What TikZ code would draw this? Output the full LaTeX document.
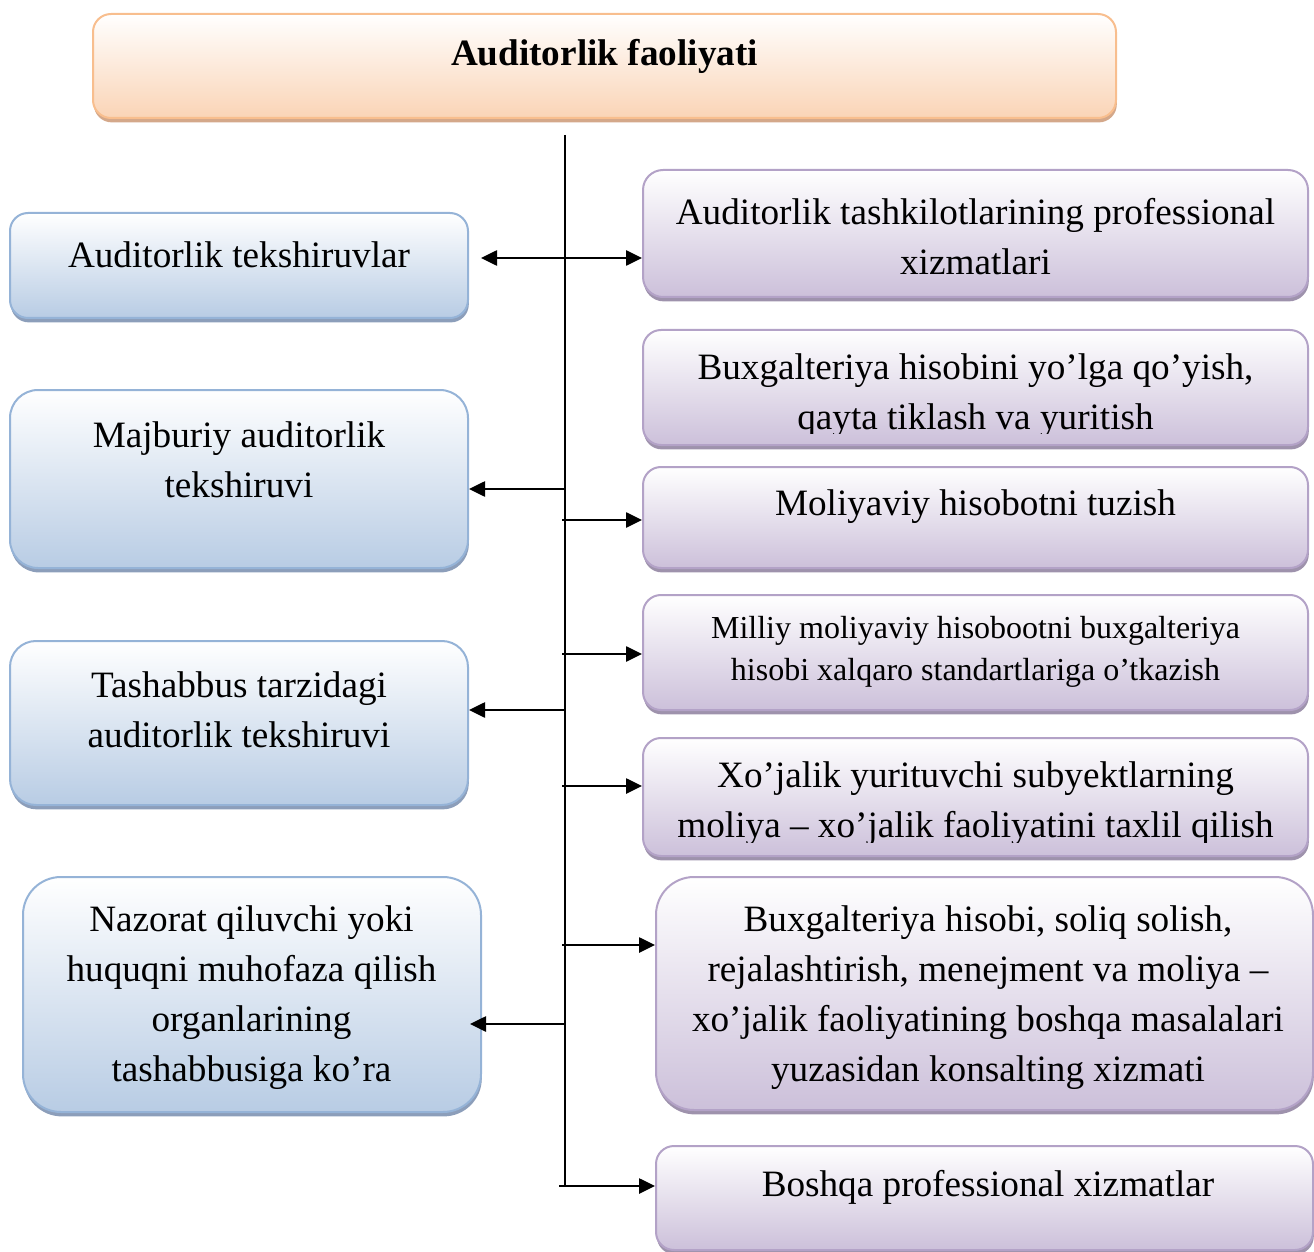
\documentclass[tikz,border=0pt]{standalone}
\usepackage{fontspec}
\setmainfont{Liberation Serif}
\usepackage{tikz}
\usetikzlibrary{arrows.meta, shadows}
\definecolor{PeachLine}  {RGB}{248,190,142}
\definecolor{PeachFill}  {RGB}{250,212,182}
\definecolor{PeachShadow}{RGB}{212,168,138}
\definecolor{SkyLine}    {RGB}{149,179,215}
\definecolor{SkyFill}    {RGB}{184,204,228}
\definecolor{SkyShadow}  {RGB}{140,158,186}
\definecolor{LilacLine}  {RGB}{179,162,199}
\definecolor{LilacFill}  {RGB}{204,192,218}
\definecolor{LilacShadow}{RGB}{158,146,172}

\begin{document}
\begin{tikzpicture}[
  x=0.5pt, y=-0.5pt,
  base/.style={rounded corners=9pt, line width=1pt, inner sep=0pt},
  headbox/.style={base, draw=PeachLine, top color=white, bottom color=PeachFill,
              general shadow={fill=PeachShadow, shadow xshift=0.4pt, shadow yshift=-2.2pt}},
  leftbox/.style={base, draw=SkyLine, top color=white, bottom color=SkyFill,
              minimum width=229pt,
              general shadow={fill=SkyShadow, shadow xshift=0.4pt, shadow yshift=-2.2pt}},
  rightbox/.style={base, draw=LilacLine, top color=white, bottom color=LilacFill,
              minimum width=332.5pt,
              general shadow={fill=LilacShadow, shadow xshift=0.4pt, shadow yshift=-2.2pt}},
  txt/.style={align=center, inner sep=0pt, font=\fontsize{18.6}{25}\selectfont},
  smalltxt/.style={align=center, inner sep=0pt, font=\fontsize{16}{21}\selectfont},
  arr/.style={-{Triangle[length=8pt, width=7.5pt]}, line width=1.3pt},
  spine/.style={line width=1.1pt}
]
  \useasboundingbox (0,0) rectangle (1314,1252);

  \node[headbox, minimum width=511.5pt, minimum height=52pt] (head) at (604.5,66) {};
  \node[txt, font=\fontsize{18.6}{25}\selectfont\bfseries] (headtxt) at (604.5,56) {Auditorlik faoliyati};

  \node[leftbox, minimum height=52.5pt] (lA) at (239,265.5) {};
  \node[txt] (lAt) at (239,255) {Auditorlik tekshiruvlar};
  \node[leftbox, minimum height=89pt, rounded corners=14pt] (lB) at (239,479) {};
  \node[txt] (lBt) at (239,459.5) {Majburiy auditorlik\\tekshiruvi};
  \node[leftbox, minimum height=82pt, rounded corners=13pt] (lC) at (239,723) {};
  \node[txt] (lCt) at (239,710) {Tashabbus tarzidagi\\auditorlik tekshiruvi};
  \node[leftbox, minimum height=117.5pt, rounded corners=19pt] (lD) at (252,994.5) {};
  \node[txt] (lDt) at (251.5,997.5) {Nazorat qiluvchi yoki\\huquqni muhofaza qilish\\organlarining\\tashabbusiga ko’ra};

  \node[rightbox, minimum height=63.5pt, rounded corners=10pt] (rA) at (975.5,233.5) {};
  \node[txt] (rAt) at (975.5,236.5) {Auditorlik tashkilotlarining professional\\xizmatlari};
  \node[rightbox, minimum height=57.5pt] (rB) at (975.5,387.5) {};
  \begin{scope}
    \clip (643,330) rectangle (1308,433);
    \node[txt] (rBt) at (975.5,395.5) {Buxgalteriya hisobini yo’lga qo’yish,\\qayta tiklash va yuritish};
  \end{scope}
  \node[rightbox, minimum height=50.5pt] (rC) at (975.5,517.5) {};
  \node[txt] (rCt) at (975.5,507) {Moliyaviy hisobotni tuzish};
  \node[rightbox, minimum height=57.5pt] (rD) at (975.5,652.5) {};
  \node[smalltxt] (rDt) at (975.5,652) {Milliy moliyaviy hisobootni buxgalteriya\\hisobi xalqaro standartlariga o’tkazish};
  \node[rightbox, minimum height=59pt] (rE) at (975.5,797) {};
  \begin{scope}
    \clip (643,738) rectangle (1308,842);
    \node[txt] (rEt) at (975.5,804) {Xo’jalik yurituvchi subyektlarning\\moliya – xo’jalik faoliyatini taxlil qilish};
  \end{scope}
  \node[rightbox, minimum width=328.5pt, minimum height=116.5pt, rounded corners=19pt] (rF) at (984.5,993.5) {};
  \node[txt] (rFt) at (988,997.5) {Buxgalteriya hisobi, soliq solish,\\rejalashtirish, menejment va moliya –\\xo’jalik faoliyatining boshqa masalalari\\yuzasidan konsalting xizmati};
  \node[rightbox, minimum width=328.5pt, minimum height=52pt] (rG) at (984.5,1198) {};
  \node[txt] (rGt) at (988,1187) {Boshqa professional xizmatlar};

  \coordinate (spTop) at (565,135);
  \coordinate (spBot) at (565,1186);
  \draw[spine] (spTop) -- (spBot);

  \coordinate (jA) at (481,258);
  \coordinate (jB) at (565,489);
  \coordinate (jC) at (562,520);
  \coordinate (jD) at (562,654);
  \coordinate (jE) at (565,710);
  \coordinate (jF) at (562,786);
  \coordinate (jG) at (562,945);
  \coordinate (jH) at (565,1024);
  \coordinate (jI) at (559,1186);
  \draw[arr, {Triangle[length=8pt, width=7.5pt]}-{Triangle[length=8pt, width=7.5pt]}] (jA) -- (jA -| rA.west);
  \draw[arr] (jB) -- (jB -| lB.east);
  \draw[arr] (jC) -- (jC -| rC.west);
  \draw[arr] (jD) -- (jD -| rD.west);
  \draw[arr] (jE) -- (jE -| lC.east);
  \draw[arr] (jF) -- (jF -| rE.west);
  \draw[arr] (jG) -- (jG -| rF.west);
  \draw[arr, shorten >=-6pt] (jH) -- (jH -| lD.east);
  \draw[arr] (jI) -- (jI -| rG.west);
\end{tikzpicture}
\end{document}
